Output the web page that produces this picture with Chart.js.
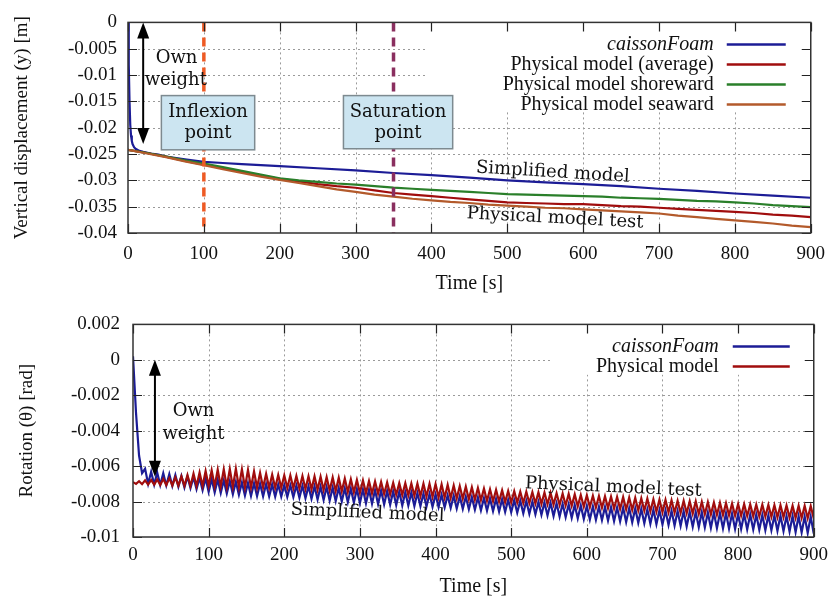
<!DOCTYPE html>
<html>
<head>
<meta charset="utf-8">
<script src="https://cdn.jsdelivr.net/npm/chart.js@4.4.1/dist/chart.umd.min.js"></script>
<style>
  body { margin: 0; background: #fff; }
  #wrap { position: relative; width: 835px; height: 601px; }
  canvas { position: absolute; left: 0; }
</style>
</head>
<body>
<div id="wrap">
  <canvas id="top" width="835" height="300" style="top:0"></canvas>
  <canvas id="bottom" width="835" height="301" style="top:300px"></canvas>
</div>
<script>
// ---- axes ----
const timeTicks = [0, 100, 200, 300, 400, 500, 600, 700, 800, 900];
const timeTickLabels = ['0', '100', '200', '300', '400', '500', '600', '700', '800', '900'];
const dispTicks = [-0.04, -0.035, -0.03, -0.025, -0.02, -0.015, -0.01, -0.005, 0];
const dispTickLabels = ['-0.04', '-0.035', '-0.03', '-0.025', '-0.02', '-0.015', '-0.01', '-0.005', '0'];
const rotTicks = [-0.01, -0.008, -0.006, -0.004, -0.002, 0, 0.002];
const rotTickLabels = ['-0.01', '-0.008', '-0.006', '-0.004', '-0.002', '0', '0.002'];

// ---- vertical displacement, units of 1e-4 m ----
const simTime = [0, 1, 2, 3, 4, 5, 6, 8, 10, 15, 20, 30, 40, 50, 75, 100, 125, 150, 175, 200,
  250, 300, 350, 400, 450, 500, 550, 600, 650, 700, 750, 800, 850, 900];
const simDisp = [0, -80, -150, -195, -215, -225, -231, -237, -240, -244, -246, -249, -251, -255, -260, -265, -267, -269, -271, -273,
  -277, -281, -286, -290, -295, -300, -304, -307, -311, -316, -320, -325, -329, -333];

const physTime = [0, 25, 50, 75, 100, 125, 150, 175, 200, 225, 250, 275, 300, 325, 350, 375, 400, 425, 450,
  475, 500, 525, 550, 575, 600, 625, 650, 675, 700, 725, 750, 775, 800, 825, 850, 875, 900];
const physAverage = [-242, -248, -255, -263, -270, -277, -284, -291, -297, -302, -307, -311, -314, -319, -324, -327, -330, -333, -336,
  -339, -342, -343, -344, -345, -345, -347, -349, -350, -352, -354, -356, -358, -360, -362, -365, -367, -370];
const physShoreward = [-242, -248, -255, -262, -268, -275, -282, -289, -296, -300, -303, -306, -308, -311, -314, -316, -318, -320, -322,
  -324, -326, -327, -328, -329, -330, -331, -333, -334, -335, -337, -339, -340, -342, -344, -347, -349, -351];
const physSeaward = [-242, -249, -256, -264, -271, -279, -286, -293, -299, -305, -311, -317, -322, -327, -331, -335, -338, -341, -343,
  -346, -348, -350, -352, -353, -355, -357, -359, -361, -363, -367, -370, -373, -376, -379, -382, -386, -389];

// ---- rotation, units of 1e-5 rad; peaks at t = 0, 8, 16 ... and troughs at t = 4, 12, 20 ... ----
const rotStep = 4;
const simRotPeaks = [
  20, -540, -615, -632, -636, -640, -645, -650, -655, -658, -662, -665, -668,
  -672, -676, -680, -684, -688, -692, -695, -697, -699, -701, -703, -704,
  -706, -708, -709, -711, -713, -714, -716, -718, -720, -722, -725, -727, -729,
  -731, -733, -735, -737, -740, -742, -744, -747, -749, -752, -755, -757,
  -760, -762, -765, -767, -770, -772, -775, -777, -780, -782, -785, -787, -790,
  -792, -795, -797, -800, -802, -805, -807, -810, -813, -816, -819, -822,
  -825, -827, -829, -831, -832, -834, -835, -837, -839, -842, -844, -846, -849,
  -851, -852, -854, -855, -857, -859, -860, -862, -863, -865, -866, -868,
  -870, -871, -873, -874, -876, -877, -879, -880, -881, -882, -883, -884, -885];
const simRotTroughs = [
  -300, -640, -700, -704, -706, -709, -712, -716, -720, -724, -730, -736, -745,
  -748, -751, -754, -758, -762, -766, -768, -769, -770, -771, -772, -772,
  -773, -775, -778, -781, -784, -788, -791, -794, -797, -800, -803, -806, -808,
  -810, -812, -814, -816, -818, -820, -822, -823, -825, -826, -828, -830,
  -831, -833, -836, -839, -841, -843, -846, -849, -851, -854, -856, -858, -860,
  -863, -866, -869, -872, -875, -878, -882, -885, -888, -892, -895, -899,
  -901, -903, -905, -907, -910, -912, -915, -917, -920, -922, -925, -928, -930,
  -932, -935, -937, -940, -942, -945, -946, -948, -950, -951, -953, -954,
  -955, -957, -958, -959, -961, -962, -965, -967, -969, -972, -974, -977, -980];
const physRotPeaks = [
  -690, -685, -680, -678, -675, -672, -668, -664, -658, -650, -642, -636, -628,
  -624, -620, -618, -616, -615, -618, -622, -630, -638, -644, -648, -650,
  -652, -653, -655, -656, -657, -658, -660, -662, -664, -666, -670, -674, -678,
  -681, -684, -687, -689, -692, -694, -696, -697, -698, -699, -699, -700,
  -701, -703, -706, -709, -713, -716, -720, -723, -727, -731, -734, -737, -740,
  -742, -744, -745, -747, -748, -749, -751, -753, -755, -757, -760, -763,
  -765, -767, -769, -771, -772, -774, -775, -777, -779, -782, -784, -787, -789,
  -791, -793, -795, -796, -798, -799, -801, -803, -805, -807, -809, -812,
  -814, -815, -816, -817, -818, -819, -820, -821, -822, -823, -824, -824, -825];
const physRotTroughs = [
  -700, -702, -704, -705, -706, -707, -709, -710, -711, -712, -712, -712, -712,
  -713, -714, -716, -717, -718, -720, -720, -721, -721, -722, -722, -722,
  -723, -725, -727, -729, -731, -733, -735, -738, -740, -742, -745, -747, -750,
  -752, -754, -755, -757, -759, -761, -763, -765, -767, -769, -771, -774,
  -776, -778, -780, -782, -784, -787, -790, -792, -795, -798, -800, -803, -805,
  -806, -808, -809, -811, -813, -815, -817, -819, -822, -824, -827, -829,
  -831, -833, -835, -837, -840, -842, -845, -847, -850, -852, -855, -857, -860,
  -861, -863, -864, -866, -868, -870, -871, -873, -874, -876, -877, -879,
  -880, -881, -883, -884, -885, -886, -888, -889, -890, -892, -893, -894, -895];

const BLUE = '#1c1c96', RED = '#a00d0d', GREEN = '#2a7f2a', SIENNA = '#b35a2b';

function pairs(times, vals, unit) {
  return times.map((t, i) => ({ x: t, y: vals[i] * unit }));
}
function zigzag(peaks, troughs) {
  const out = [];
  peaks.forEach((p, i) => {
    out.push({ x: 2 * i * rotStep, y: p * 1e-5 });
    out.push({ x: (2 * i + 1) * rotStep, y: troughs[i] * 1e-5 });
  });
  return out;
}

Chart.defaults.font.family = '"Liberation Serif", serif';
Chart.defaults.font.size = 19;
Chart.defaults.color = '#111';

// grid, legend, annotations and frame drawn the gnuplot way
const overlay = {
  id: 'overlay',
  beforeDatasetsDraw(chart, args, o) {
    const { ctx, chartArea: a, scales: { x, y } } = chart;
    ctx.save();
    ctx.strokeStyle = '#9a9a9a';
    ctx.lineWidth = 1;
    ctx.setLineDash([2, 3]);
    ctx.beginPath();
    x.ticks.forEach(t => {
      const p = Math.round(x.getPixelForValue(t.value)) + 0.5;
      if (p < a.left + 2 || p > a.right - 2) return;
      ctx.moveTo(p, a.top); ctx.lineTo(p, a.bottom);
    });
    y.ticks.forEach(t => {
      const p = Math.round(y.getPixelForValue(t.value)) + 0.5;
      if (p < a.top + 2 || p > a.bottom - 2) return;
      ctx.moveTo(a.left, p); ctx.lineTo(a.right, p);
    });
    ctx.stroke();
    const m = o.mask;
    const mx = x.getPixelForValue(m[0]), my = y.getPixelForValue(m[3]);
    ctx.fillStyle = '#fff';
    ctx.fillRect(mx, my, x.getPixelForValue(m[1]) - mx, y.getPixelForValue(m[2]) - my);
    ctx.restore();
  },
  afterDatasetsDraw(chart, args, o) {
    const { ctx, chartArea: a, scales: { x, y } } = chart;
    ctx.save();

    // marker lines
    o.vlines.forEach(v => {
      const p = x.getPixelForValue(v.x);
      ctx.strokeStyle = v.color;
      ctx.lineWidth = 3.5;
      ctx.setLineDash([9, 6]);
      ctx.beginPath(); ctx.moveTo(p, a.top); ctx.lineTo(p, a.bottom); ctx.stroke();
    });
    ctx.setLineDash([]);

    // labelled boxes
    o.boxes.forEach(b => {
      const x0 = x.getPixelForValue(b.x0), x1 = x.getPixelForValue(b.x1);
      const y0 = y.getPixelForValue(b.y0), y1 = y.getPixelForValue(b.y1);
      ctx.fillStyle = '#cce5f1';
      ctx.fillRect(x0, y0, x1 - x0, y1 - y0);
      ctx.strokeStyle = '#7d8a90';
      ctx.lineWidth = 1.5;
      ctx.strokeRect(x0, y0, x1 - x0, y1 - y0);
      ctx.fillStyle = '#111';
      ctx.font = '18px "DejaVu Serif"';
      ctx.textAlign = 'center';
      ctx.textBaseline = 'middle';
      const cx = (x0 + x1) / 2, cy = (y0 + y1) / 2;
      ctx.fillText(b.lines[0], cx, cy - 10);
      ctx.fillText(b.lines[1], cx, cy + 11);
    });

    // double arrow
    o.arrows.forEach(ar => {
      const p = x.getPixelForValue(ar.x);
      const t = y.getPixelForValue(ar.y0), b = y.getPixelForValue(ar.y1);
      ctx.strokeStyle = '#000'; ctx.fillStyle = '#000'; ctx.lineWidth = 2;
      ctx.beginPath(); ctx.moveTo(p, t + 10); ctx.lineTo(p, b - 10); ctx.stroke();
      ctx.beginPath(); ctx.moveTo(p, t); ctx.lineTo(p - 6, t + 16); ctx.lineTo(p + 6, t + 16); ctx.closePath(); ctx.fill();
      ctx.beginPath(); ctx.moveTo(p, b); ctx.lineTo(p - 6, b - 16); ctx.lineTo(p + 6, b - 16); ctx.closePath(); ctx.fill();
    });

    // free text
    o.texts.forEach(tx => {
      ctx.save();
      ctx.translate(x.getPixelForValue(tx.x), y.getPixelForValue(tx.y));
      ctx.rotate((tx.rot || 0) * Math.PI / 180);
      ctx.fillStyle = '#111';
      ctx.font = '18px "DejaVu Serif"';
      ctx.textAlign = 'center';
      ctx.textBaseline = 'middle';
      ctx.fillText(tx.text, 0, 0);
      ctx.restore();
    });

    // key
    const lg = o.legend;
    lg.items.forEach((it, i) => {
      const ry = a.top + lg.rowTop + i * lg.rowGap;
      ctx.fillStyle = '#111';
      ctx.font = (it.italic ? 'italic ' : '') + '20px "Liberation Serif"';
      ctx.textAlign = 'right';
      ctx.textBaseline = 'middle';
      ctx.fillText(it.text, a.right - lg.textRight, ry);
      ctx.strokeStyle = it.color;
      ctx.lineWidth = 2.5;
      ctx.beginPath(); ctx.moveTo(a.right - lg.lineFrom, ry); ctx.lineTo(a.right - lg.lineTo, ry); ctx.stroke();
    });

    // inward tick marks and frame
    ctx.strokeStyle = '#222';
    ctx.lineWidth = 1.2;
    ctx.beginPath();
    x.ticks.forEach(t => {
      const p = Math.round(x.getPixelForValue(t.value)) + 0.5;
      ctx.moveTo(p, a.bottom); ctx.lineTo(p, a.bottom - 9);
      ctx.moveTo(p, a.top); ctx.lineTo(p, a.top + 9);
    });
    y.ticks.forEach(t => {
      const p = Math.round(y.getPixelForValue(t.value)) + 0.5;
      ctx.moveTo(a.left, p); ctx.lineTo(a.left + 9, p);
      ctx.moveTo(a.right, p); ctx.lineTo(a.right - 9, p);
    });
    ctx.stroke();
    ctx.strokeStyle = '#333';
    ctx.lineWidth = 1.5;
    ctx.strokeRect(a.left, a.top, a.right - a.left, a.bottom - a.top);
    ctx.restore();
  }
};

function scales(yTicks, yLabels, yTitle, yMin, yMax, o) {
  return {
    x: {
      type: 'linear', min: 0, max: 900,
      afterBuildTicks: s => { s.ticks = timeTicks.map(v => ({ value: v })); },
      afterFit: s => { s.height = o.xHeight; },
      grid: { display: false, drawTicks: false },
      border: { display: false },
      ticks: { padding: o.xPad, maxRotation: 0, autoSkip: false, callback: (v, i) => timeTickLabels[i] },
      title: { display: true, text: 'Time [s]', font: { size: 20 }, padding: { top: 0, bottom: o.xTitlePad } }
    },
    y: {
      type: 'linear', min: yMin, max: yMax,
      afterBuildTicks: s => { s.ticks = yTicks.map(v => ({ value: v })); },
      afterFit: s => { s.width = o.yWidth; },
      grid: { display: false, drawTicks: false },
      border: { display: false },
      ticks: { padding: o.yPad, autoSkip: false, callback: (v, i) => yLabels[i] },
      title: { display: true, text: yTitle, padding: { top: o.yTitlePad, bottom: 0 } }
    }
  };
}

new Chart(document.getElementById('top'), {
  type: 'line',
  data: {
    datasets: [
      { data: pairs(simTime, simDisp, 1e-4), borderColor: BLUE, order: 4 },
      { data: pairs(physTime, physAverage, 1e-4), borderColor: RED, order: 3 },
      { data: pairs(physTime, physShoreward, 1e-4), borderColor: GREEN, order: 2 },
      { data: pairs(physTime, physSeaward, 1e-4), borderColor: SIENNA, order: 1 }
    ]
  },
  options: {
    responsive: false,
    animation: false,
    parsing: false,
    elements: { point: { radius: 0 }, line: { borderWidth: 2.2, tension: 0 } },
    layout: { padding: { top: 18, right: 18, left: 0, bottom: 0 } },
    scales: scales(dispTicks, dispTickLabels, 'Vertical displacement (y) [m]', -0.04, 0,
      { xHeight: 67, xPad: 10, xTitlePad: 4, yWidth: 128, yPad: 11, yTitlePad: 11 }),
    plugins: {
      legend: { display: false },
      tooltip: { enabled: false },
      overlay: {
        mask: [392, 900, -0.0168, 0],
        vlines: [{ x: 100, color: '#ee5a24' }, { x: 350, color: '#8a2f5f' }],
        boxes: [
          { x0: 44, x1: 167, y0: -0.0139, y1: -0.0242, lines: ['Inflexion', 'point'] },
          { x0: 284, x1: 428, y0: -0.0139, y1: -0.0240, lines: ['Saturation', 'point'] }
        ],
        arrows: [{ x: 20, y0: 0, y1: -0.0231 }],
        texts: [
          { x: 64, y: -0.0069, text: 'Own' },
          { x: 63, y: -0.0110, text: 'weight' },
          { x: 560, y: -0.0285, text: 'Simplified model', rot: 3.5 },
          { x: 563, y: -0.0372, text: 'Physical model test', rot: 3 }
        ],
        legend: {
          textRight: 97, lineFrom: 84, lineTo: 25, rowTop: 22, rowGap: 20,
          items: [
            { text: 'caissonFoam', color: BLUE, italic: true },
            { text: 'Physical model (average)', color: RED },
            { text: 'Physical model shoreward', color: GREEN },
            { text: 'Physical model seaward', color: SIENNA }
          ]
        }
      }
    }
  },
  plugins: [overlay]
});

new Chart(document.getElementById('bottom'), {
  type: 'line',
  data: {
    datasets: [
      { data: zigzag(simRotPeaks, simRotTroughs), borderColor: BLUE, order: 2 },
      { data: zigzag(physRotPeaks, physRotTroughs), borderColor: RED, order: 1 }
    ]
  },
  options: {
    responsive: false,
    animation: false,
    parsing: false,
    elements: { point: { radius: 0 }, line: { borderWidth: 2.2, tension: 0 } },
    layout: { padding: { top: 22, right: 17, left: 0, bottom: 0 } },
    scales: scales(rotTicks, rotTickLabels, 'Rotation (θ) [rad]', -0.01, 0.002,
      { xHeight: 64, xPad: 7, xTitlePad: 2, yWidth: 133, yPad: 13, yTitlePad: 16 }),
    plugins: {
      legend: { display: false },
      tooltip: { enabled: false },
      overlay: {
        mask: [552, 900, -0.00084, 0.002],
        vlines: [],
        boxes: [],
        arrows: [{ x: 29, y0: 0, y1: -0.0066 }],
        texts: [
          { x: 80, y: -0.0029, text: 'Own' },
          { x: 80, y: -0.0042, text: 'weight' },
          { x: 310, y: -0.00865, text: 'Simplified model', rot: 2.5 },
          { x: 635, y: -0.0072, text: 'Physical model test', rot: 2.5 }
        ],
        legend: {
          textRight: 95, lineFrom: 81, lineTo: 24, rowTop: 22, rowGap: 20,
          items: [
            { text: 'caissonFoam', color: BLUE, italic: true },
            { text: 'Physical model', color: RED }
          ]
        }
      }
    }
  },
  plugins: [overlay]
});
</script>
</body>
</html>
